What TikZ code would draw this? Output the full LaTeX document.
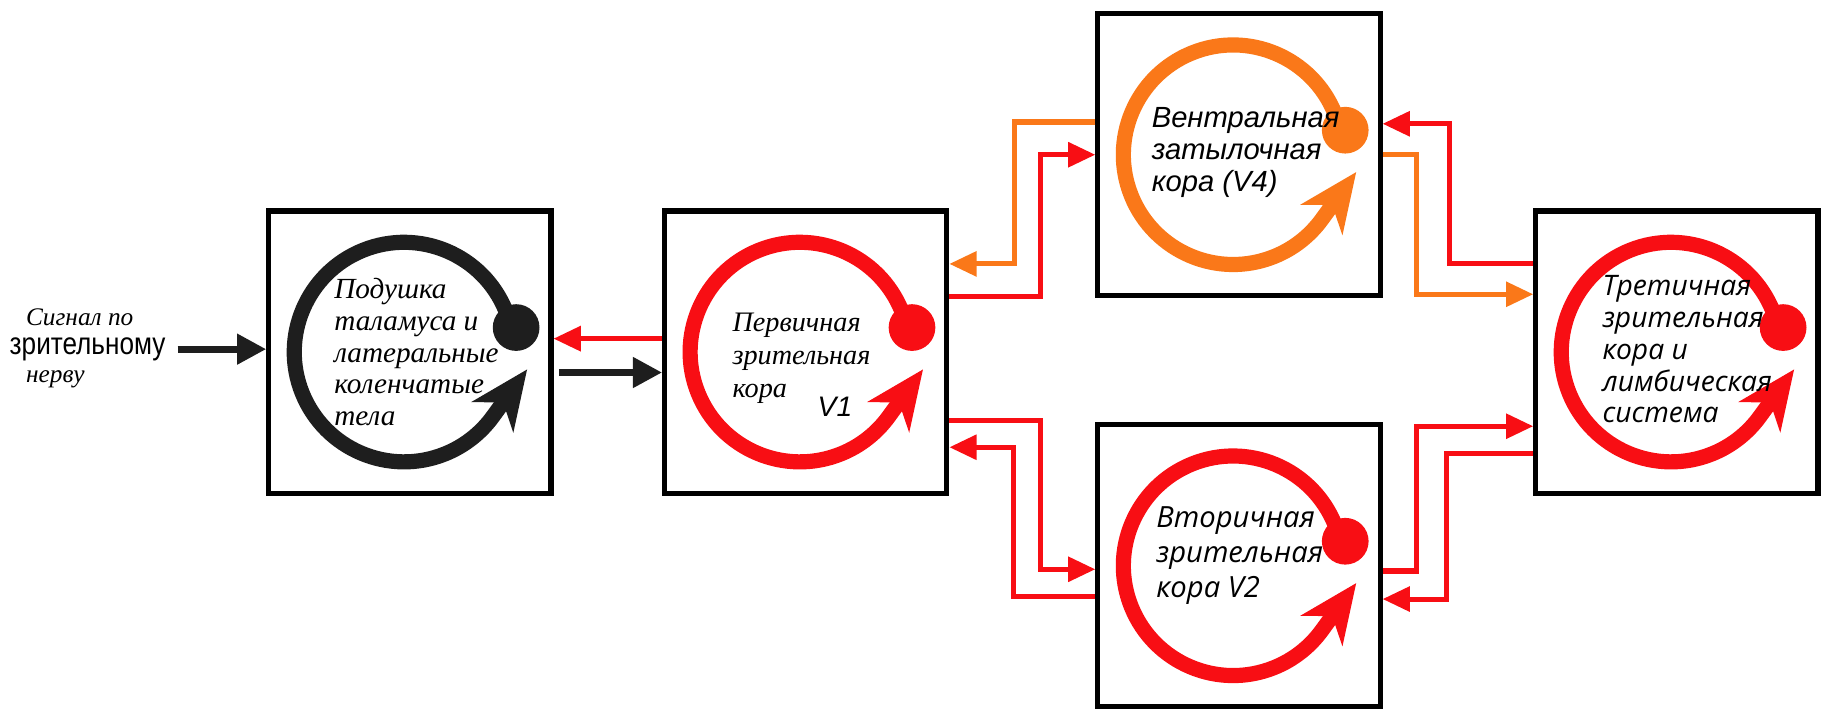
\documentclass[tikz,border=0pt]{standalone}
\usepackage{fontspec}
\setmainfont{Liberation Serif}
\newfontfamily\arialfont{Liberation Sans}
\newfontfamily\narrowfont[FakeStretch=0.84]{Liberation Sans}
\newfontfamily\segoefont{Open Sans}
\usetikzlibrary{arrows.meta,calc}
\definecolor{vred}{RGB}{248,14,20}
\definecolor{vorange}{RGB}{250,120,25}
\definecolor{vblack}{RGB}{30,30,30}
\tikzset{
  area/.style={draw=black, line width=2.6pt, minimum size=145pt, inner sep=0pt},
  cyc/.style={line width=7.8pt, -{Stealth[length=30pt,width=26pt,inset=9pt]}},
  link/.style={line width=2.6pt, -{Triangle[length=14pt,width=12.5pt]}},
  blink/.style={vblack, line width=3.6pt, -{Triangle[length=15pt,width=15pt]}},
  txt/.style={anchor=west, align=left, inner sep=0pt},
}

\begin{document}
\begin{tikzpicture}[x=0.6pt,y=0.6pt]
\useasboundingbox (0,0) rectangle (1568,610);
% boxes
\node[area] (thal) at (351,308.5) {};
\node[area] (prim) at (690,308.5) {};
\node[area] (vent) at (1061,477.5) {};
\node[area] (sec) at (1061,125.5) {};
\node[area] (tert) at (1436,308.5) {};
% loops in the boxes
\foreach \b/\c in {thal/vblack, prim/vred, vent/vorange, sec/vred, tert/vred}{
  \begin{scope}[shift={(\b)}, shift={(-5,0)}]
    \draw[cyc, \c] (22:94) arc[start angle=22, end angle=324, radius=94] -- ++(54:50);
    \fill[\c] (96,21) circle[radius=20];
  \end{scope}
}
% texts
\node[txt, font=\itshape\fontsize{15}{16.3}\selectfont] (thaltxt) at (286,308.5) {Подушка\\таламуса и\\латеральные\\коленчатые\\тела};
\node[txt, font=\itshape\fontsize{14.5}{17}\selectfont] (primtxt) at (627,303.5) {Первичная\\зрительная\\кора};
\node[font=\arialfont\itshape\fontsize{14.5}{17}\selectfont, inner sep=0pt] (primv) at (715,262) {V1};
\node[txt, font=\arialfont\itshape\fontsize{15}{16.5}\selectfont] (venttxt) at (986,479.5) {Вентральная\\затылочная\\кора (V4)};
\node[txt, font=\segoefont\itshape\fontsize{15}{18}\selectfont] (sectxt) at (990,134.5) {Вторичная\\зрительная\\кора V2};
\node[txt, font=\segoefont\itshape\fontsize{14.5}{16.4}\selectfont] (terttxt) at (1372,311) {Третичная\\зрительная\\кора и\\лимбическая\\система};
\node[txt, font=\itshape\fontsize{13}{15}\selectfont] (sig1) at (22,338) {Сигнал по};
\node[txt, font=\narrowfont\fontsize{16}{18}\selectfont] (sig2) at (8,311) {зрительному};
\node[txt, font=\itshape\fontsize{13}{15}\selectfont] (sig3) at (22,285) {нерву};
% connectors
\draw[blink] ($(sig2.east)+(10,0)$) -- (sig2.east -| thal.west);
\draw[link, vred] ($(prim.west)+(0,11.5)$) -- ($(thal.east)+(0,11.5)$);
\draw[blink] ($(thal.east)+(5,-17.5)$) -- ($(prim.west)+(0,-17.5)$);
\draw[link, vred] ($(prim.east)+(0,47.5)$) -- ++(78,0) |- (vent.west);
\draw[link, vorange] ($(vent.west)+(0,28)$) -- ++(-69,0) |- ($(prim.east)+(0,75.5)$);
\draw[link, vred] ($(prim.east)+(0,-58.5)$) -- ++(78,0) |- ($(sec.west)+(0,-3)$);
\draw[link, vred] ($(sec.west)+(0,-26.5)$) -- ++(-70,0) |- ($(prim.east)+(0,-81.5)$);
\draw[link, vred] ($(tert.west)+(0,75.5)$) -- ++(-72,0) |- ($(vent.east)+(0,26.5)$);
\draw[link, vorange] (vent.east) -- ++(29,0) |- ($(tert.west)+(0,49.5)$);
\draw[link, vred] ($(sec.east)+(0,-4.5)$) -- ++(29,0) |- ($(tert.west)+(0,-63.5)$);
\draw[link, vred] ($(tert.west)+(0,-86.5)$) -- ++(-74,0) |- ($(sec.east)+(0,-28.5)$);
\end{tikzpicture}
\end{document}
